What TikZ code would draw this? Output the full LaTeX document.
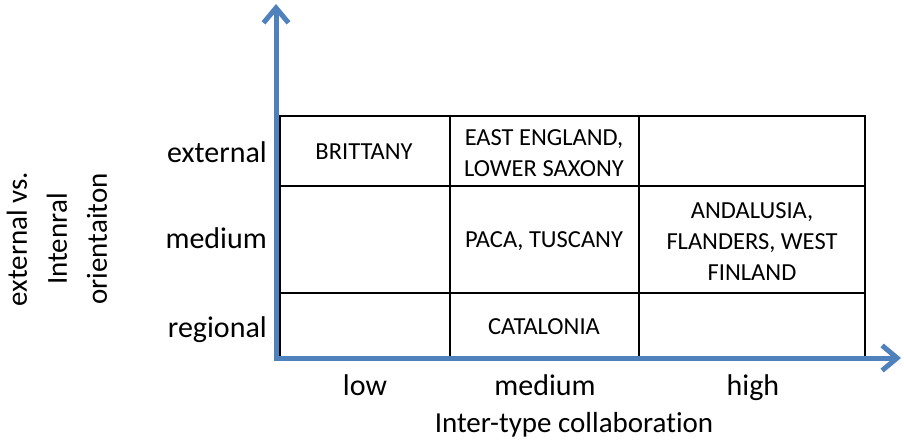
\documentclass[tikz,border=0pt]{standalone}
\usepackage{fontspec}
\setmainfont[RawFeature=-liga]{Carlito}
\usepackage{tikz}
\usetikzlibrary{arrows.meta,calc,positioning}
\definecolor{axisblue}{RGB}{79,129,189}
\tikzset{
    myaxis/.style={line width=5pt,draw=axisblue,line join=miter,
      {Straight Barb[length=15pt,width=25pt]}-{Straight Barb[length=15pt,width=25pt]}},
    mygrid/.style={line width=2pt,draw=black},
    mycell/.style={align=center,inner sep=0pt,font=\fontsize{24.5}{31}\selectfont},
    mylabel/.style={inner sep=0pt,font=\fontsize{30}{39}\selectfont},
    every node/.style={text=black}
}

\begin{document}
\begin{tikzpicture}[x=1pt,y=-1pt]
  \useasboundingbox (0,0) rectangle (904,439);

  % Achsen
  \coordinate (O)  at (276,358);
  \coordinate (YT) at (276,4);
  \coordinate (XT) at (901,358);

  % Tabelle
  \coordinate (T0) at (280,116);
  \coordinate (T1) at (865,358);
  \draw[mygrid] (T0) rectangle (T1);
  \foreach \x in {450,639}{\draw[mygrid] (\x,116) -- (\x,358);}
  \foreach \y in {186,293}{\draw[mygrid] (280,\y) -- (865,\y);}

  \draw[myaxis] (YT) -- (O) -- (XT);

  % Zellen
  \node[mycell] (C00) at (364,152)   {BRITTANY};
  \node[mycell] (C01) at (544,153)   {EAST ENGLAND,\\LOWER SAXONY};
  \node[mycell] (C11) at (544,241)   {PACA, TUSCANY};
  \node[mycell] (C12) at (752,242)   {ANDALUSIA,\\FLANDERS, WEST\\FINLAND};
  \node[mycell] (C21) at (544,327)   {CATALONIA};

  % Zeilen- und Spaltenbeschriftung
  \foreach \n/\y/\t in {R0/162/external,R1/248/medium,R2/337/regional}{
    \node[mylabel,anchor=base east] (\n) at (267,\y) {\t};
  }
  \foreach \n/\x/\t in {K0/365/low,K1/545/medium,K2/753/high}{
    \node[mylabel,anchor=base] (\n) at (\x,395) {\t};
  }
  \node[mylabel,anchor=base,font=\fontsize{29}{39}\selectfont] (XL) at (574,432) {Inter-type collaboration};
  \node[mylabel,align=center,rotate=90,font=\fontsize{29}{40}\selectfont] (YL) at (57,239)
    {external vs.\\Intenral\\orientaiton};
\end{tikzpicture}
\end{document}
